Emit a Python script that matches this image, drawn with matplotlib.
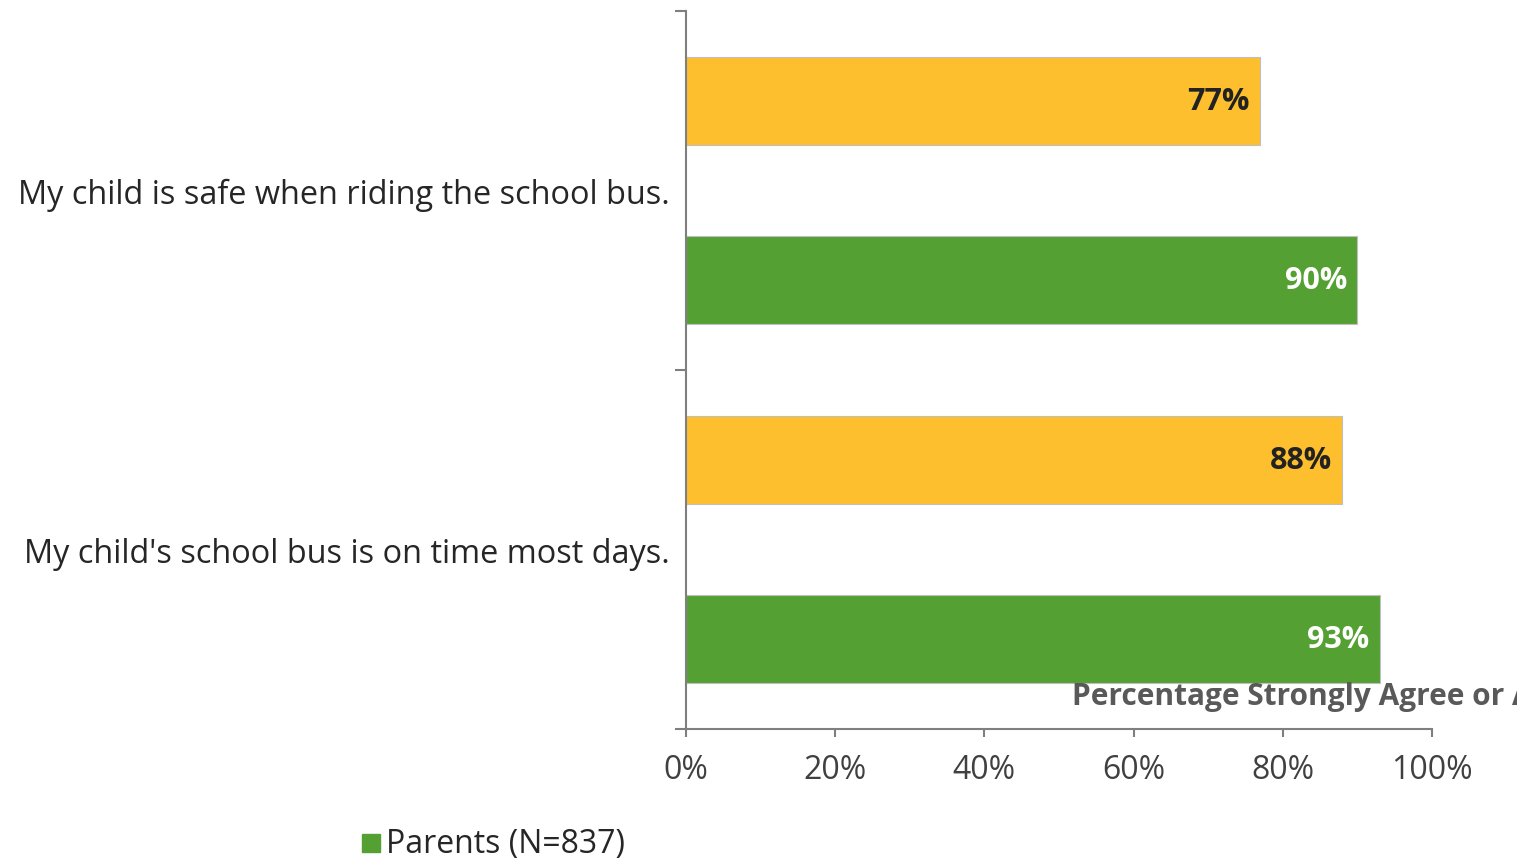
import matplotlib
matplotlib.use("Agg")
import matplotlib.pyplot as plt
from matplotlib.patches import Rectangle

categories = ["My child's school bus is on time most days.",
              "My child is safe when riding the school bus."]
other_values = [88, 77]      # yellow series
parent_values = [93, 90]     # green series
legend_label = "Parents (N=837)"
axis_title = "Percentage Strongly Agree or Agree"
xticks = [0, 20, 40, 60, 80, 100]

YELLOW = "#FDBF2D"
GREEN = "#54A033"
FONT = "Open Sans"
FS = 23

W, H = 1517, 862
fig = plt.figure(figsize=(W / 100, H / 100), dpi=100)
ax = fig.add_axes([686 / W, 1 - 730 / H, (1432 - 686) / W, (730 - 12) / H])

centers = [0.5, 1.5]
bh = 0.245
off = 0.25
for c, yv, gv in zip(centers, other_values, parent_values):
    ax.barh(c + off, yv, height=bh, color=YELLOW, edgecolor="#BFBFBF", linewidth=0.8)
    ax.barh(c - off, gv, height=bh, color=GREEN, edgecolor="#BFBFBF", linewidth=0.8)
    ax.text(yv - 1.4, c + off, f"{yv}%", ha="right", va="center", fontsize=FS - 1,
            fontweight="bold", color="#222222", family=FONT)
    ax.text(gv - 1.4, c - off, f"{gv}%", ha="right", va="center", fontsize=FS - 1,
            fontweight="bold", color="white", family=FONT)

ax.set_xlim(0, 100)
ax.set_ylim(0, 2)
for s in ["top", "right"]:
    ax.spines[s].set_visible(False)
for s in ["left", "bottom"]:
    ax.spines[s].set_color("#7F7F7F")
    ax.spines[s].set_linewidth(1.5)

ax.set_xticks(xticks)
ax.set_xticklabels([f"{t}%" for t in xticks], fontsize=FS, color="#404040", family=FONT)
ax.tick_params(axis="x", length=6, width=1.5, color="#7F7F7F", pad=11)

ax.set_yticks([0, 1, 2])
ax.set_yticklabels([])
ax.tick_params(axis="y", which="major", length=8, width=1.5, color="#7F7F7F")
ax.set_yticks(centers, minor=True)
ax.set_yticklabels(categories, minor=True, fontsize=FS + 0.4, color="#262626", family=FONT)
ax.tick_params(axis="y", which="minor", length=0, pad=12)

# Axis title: as in the reference, it runs past the right edge of the image
fig.text(1072 / W, 1 - 697 / H, axis_title, ha="left", va="center", fontsize=21.5,
         fontweight="bold", color="#595959", family=FONT)

fig.patches.append(Rectangle((362 / W, 1 - 853 / H), 18 / W, 18 / H,
                             transform=fig.transFigure, color=GREEN))
fig.text(386 / W, 1 - 845 / H, legend_label, ha="left", va="center", fontsize=FS,
         color="#262626", family=FONT)

fig.savefig("out.png", dpi=100)
